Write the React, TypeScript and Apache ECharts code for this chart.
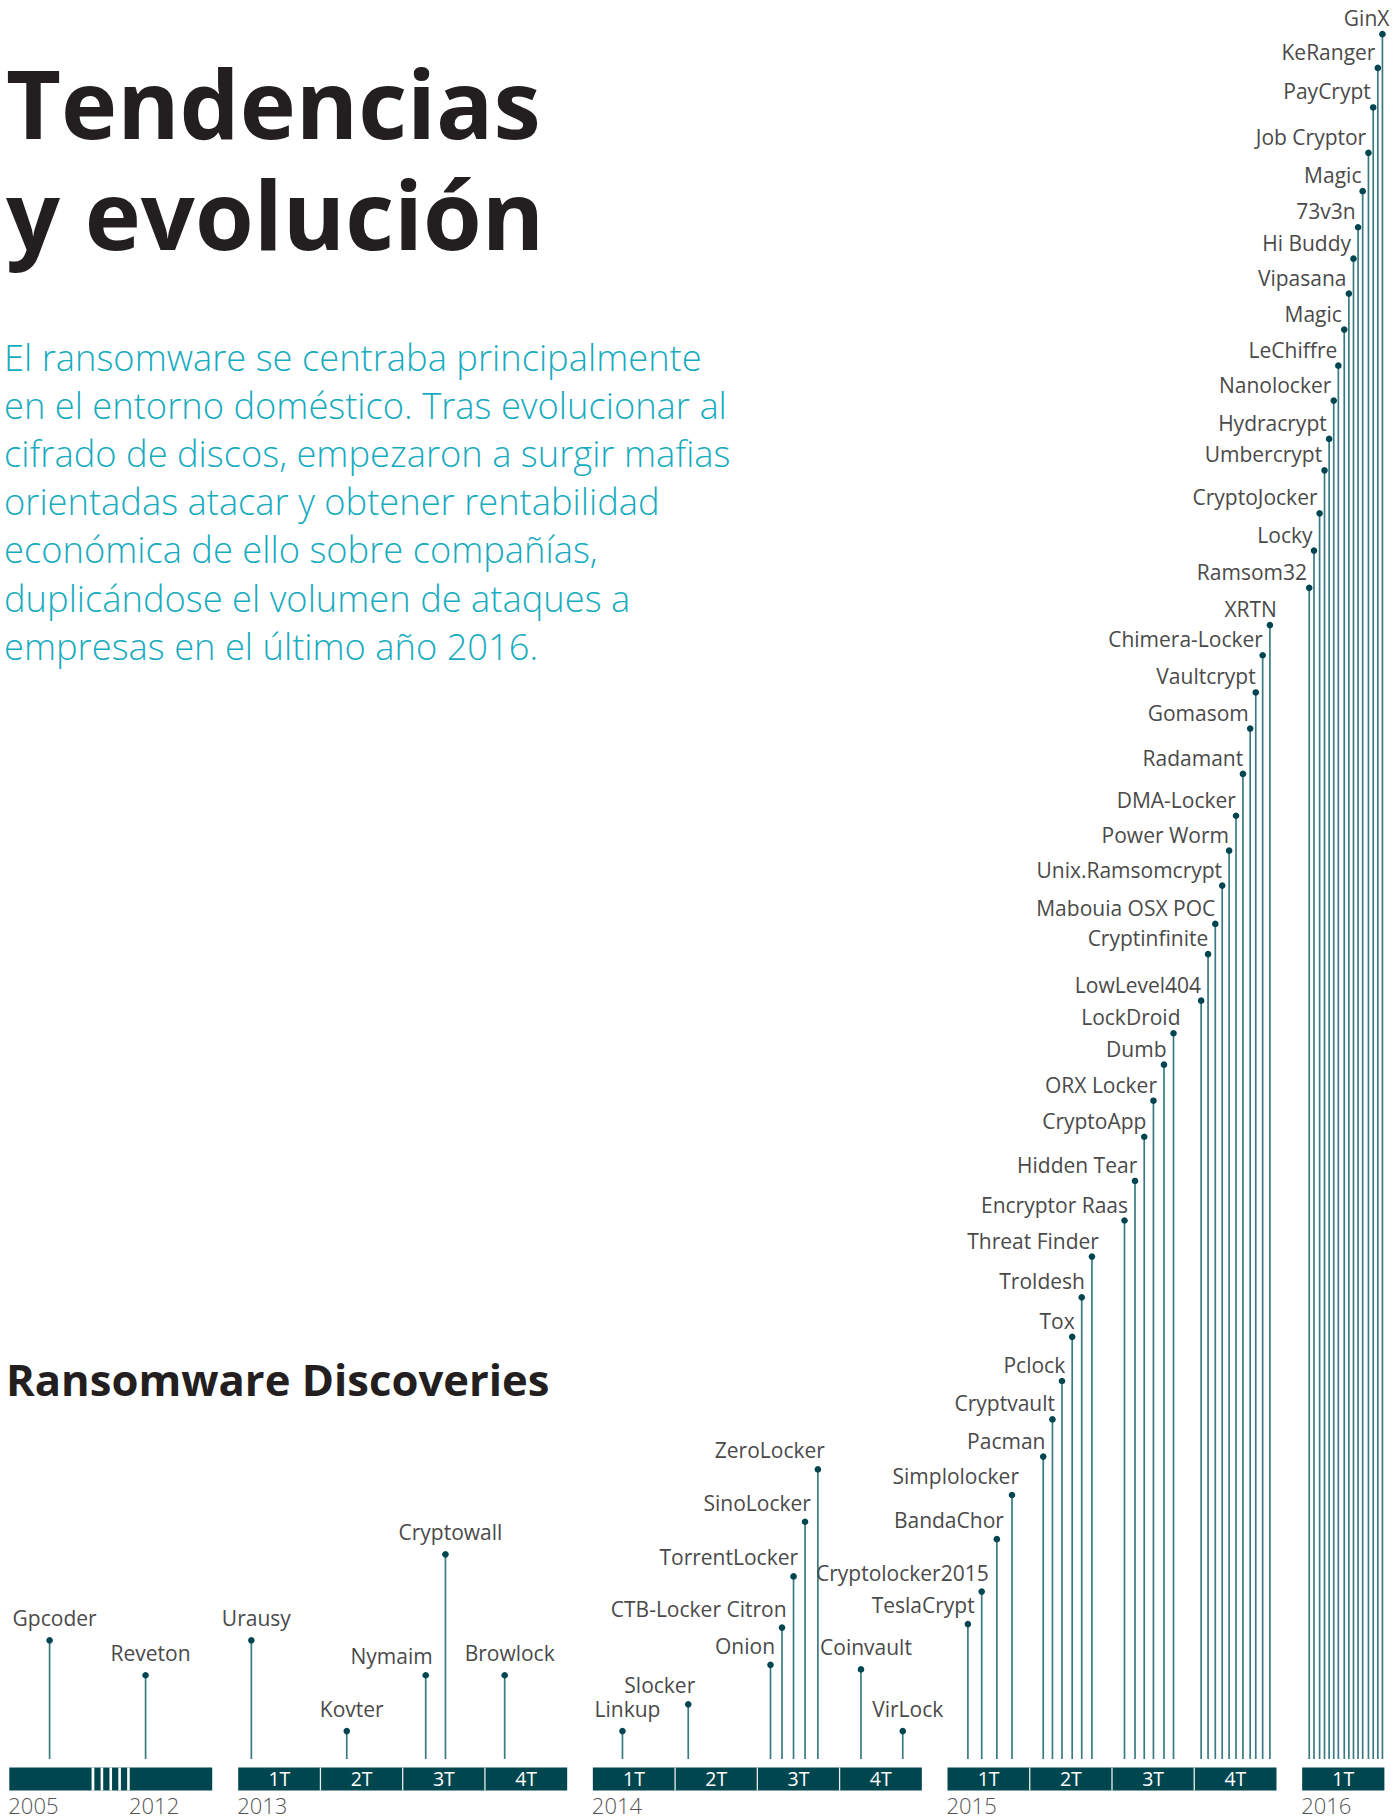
import React, { useEffect, useRef } from "react";
import * as echarts from "echarts";

// ---------- DATA ----------
const NAMES = [
  "Gpcoder", "Reveton",
  "Urausy", "Kovter", "Nymaim", "Cryptowall", "Browlock",
  "Linkup", "Slocker", "Onion", "CTB-Locker Citron", "TorrentLocker", "SinoLocker", "ZeroLocker", "Coinvault", "VirLock",
  "TeslaCrypt", "Cryptolocker2015", "BandaChor", "Simplolocker",
  "Pacman", "Cryptvault", "Pclock", "Tox", "Troldesh", "Threat Finder",
  "Encryptor Raas", "Hidden Tear", "CryptoApp", "ORX Locker", "Dumb", "LockDroid",
  "LowLevel404", "Cryptinfinite", "Mabouia OSX POC", "Unix.Ramsomcrypt", "Power Worm", "DMA-Locker",
  "Radamant", "Gomasom", "Vaultcrypt", "Chimera-Locker", "XRTN",
  "Ramsom32", "Locky", "CryptoJocker", "Umbercrypt", "Hydracrypt", "Nanolocker", "LeChiffre", "Magic",
  "Vipasana", "Hi Buddy", "73v3n", "Magic", "Job Cryptor", "PayCrypt", "KeRanger", "GinX",
];

// discovery date (decimal year)
const DATES = [
  2005.49, 2012.19,
  2013.04, 2013.33, 2013.57, 2013.63, 2013.81,
  2014.09, 2014.29, 2014.54, 2014.575, 2014.61, 2014.645, 2014.684, 2014.815, 2014.942,
  2015.062, 2015.104, 2015.15, 2015.196,
  2015.291, 2015.319, 2015.348, 2015.379, 2015.408, 2015.439,
  2015.538, 2015.57, 2015.598, 2015.626, 2015.658, 2015.687,
  2015.771, 2015.792, 2015.814, 2015.835, 2015.856, 2015.877,
  2015.898, 2015.92, 2015.937, 2015.958, 2015.98,
  2016.0215, 2016.036, 2016.053, 2016.068, 2016.082, 2016.096, 2016.11, 2016.128,
  2016.142, 2016.156, 2016.17, 2016.184, 2016.2015, 2016.216, 2016.23, 2016.244,
];

// stem height (relative units)
const HEIGHTS = [
  102, 72,
  102, 24, 72, 176, 72,
  24, 47, 81, 113, 157, 204, 249, 77, 24,
  116, 144, 189, 227,
  260, 292, 325, 363, 397, 432,
  463, 497, 535, 566, 597, 624,
  652, 692, 718, 751, 781, 811,
  847, 886, 917, 949, 975,
  1007, 1039, 1071, 1108, 1135, 1168, 1198, 1229,
  1260, 1290, 1317, 1348, 1381, 1420, 1454, 1483,
];

const YEAR_LABELS = ["2005", "2012", "2013", "2014", "2015", "2016"];
const QUARTER_LABELS = ["1T", "2T", "3T", "4T"];
const QUARTERS_SHOWN = [4, 4, 4, 1]; // 2013, 2014, 2015, 2016

const TITLE_LINES = ["Tendencias", "y evolución"];
const PARAGRAPH = [
  "El ransomware se centraba principalmente",
  "en el entorno doméstico. Tras evolucionar al",
  "cifrado de discos, empezaron a surgir mafias",
  "orientadas atacar y obtener rentabilidad",
  "económica de ello sobre compañías,",
  "duplicándose el volumen de ataques a",
  "empresas en el último año 2016.",
];
const SUBTITLE = "Ransomware Discoveries";

// ---------- STYLE ----------
// label placement: c = centred above dot, r = right-aligned next to dot
const LABEL_ALIGN =
  "cc" + "ccrcc" + "crrrrrrcc" + "rrrr" + "rrrrrr" + "rrrrrr" + "rrrrrr" + "rrrrr" + "rrrrrrrr" + "rrrrrrrr";

const FONT = "'Open Sans', sans-serif";
const BAR = "#00464f";
const STEM = "#3a7b83";
const DOT = "#00454f";
const LABEL = "#4a4a4a";
const CYAN = "#17abc0";
const DARK = "#231f20";

// timeline layout (slot units: one quarter = 1 slot)
const START_2012 = 1.467;
const START_2013 = 2.783;
const YEAR_STRIDE = 4.312;

function dateToSlot(d: number): number {
  if (d < 2006) return d - 2005;
  if (d < 2013) return START_2012 + (d - 2012);
  const y = Math.floor(d);
  return START_2013 + (y - 2013) * YEAR_STRIDE + (d - y) * 4;
}

type Seg = { s: number; e: number; label: string; year: string; kind: string };

function buildSegments(): Seg[] {
  const segs: Seg[] = [];
  segs.push({ s: dateToSlot(2005), e: dateToSlot(2005) + 1, label: "", year: YEAR_LABELS[0], kind: "full" });
  segs.push({ s: dateToSlot(2005) + 1, e: dateToSlot(2012), label: "", year: "", kind: "break" });
  segs.push({ s: dateToSlot(2012), e: dateToSlot(2012) + 1, label: "", year: YEAR_LABELS[1], kind: "full" });
  QUARTERS_SHOWN.forEach((n, yi) => {
    const year = 2013 + yi;
    for (let q = 0; q < n; q++) {
      const s = dateToSlot(year + q * 0.25);
      segs.push({ s, e: s + 1, label: QUARTER_LABELS[q], year: q === 0 ? YEAR_LABELS[2 + yi] : "", kind: q === 0 ? "q0" : "q" });
    }
  });
  return segs;
}

const X_MAX = dateToSlot(2016) + QUARTERS_SHOWN[3];
const Y_MAX = 1512.4;

export default function App() {
  const ref = useRef<HTMLDivElement>(null);
  useEffect(() => {
    document.body.style.margin = "0";
    if (!ref.current) return;
    const chart = echarts.init(ref.current, undefined, { renderer: "svg" });
    const segs = buildSegments();
    const slots = DATES.map((d) => dateToSlot(d));
    const stems = NAMES.map((_, i) => [slots[i], HEIGHTS[i], i]);

    const graphics: any[] = [];
    TITLE_LINES.forEach((t, i) => {
      graphics.push({
        type: "text",
        left: 6,
        top: 54 + i * 111.5,
        style: { text: t, fontFamily: FONT, fontWeight: 700, fontSize: 95, fill: DARK },
      });
    });
    PARAGRAPH.forEach((t, i) => {
      graphics.push({
        type: "text",
        left: 4,
        top: 338.5 + i * 48.2,
        style: { text: t, fontFamily: FONT, fontWeight: 300, fontSize: 36.3, fill: CYAN },
      });
    });
    graphics.push({
      type: "text",
      left: 6,
      top: 1357,
      style: { text: SUBTITLE, fontFamily: FONT, fontWeight: 700, fontSize: 43.6, fill: DARK },
    });

    chart.setOption({
      animation: false,
      grid: { left: 9.3, right: 9.6, top: 0, bottom: 59 },
      xAxis: { type: "value", min: 0, max: X_MAX, show: false },
      yAxis: { type: "value", min: 0, max: Y_MAX, show: false },
      graphic: graphics,
      series: [
        {
          type: "custom",
          silent: true,
          clip: false,
          data: segs.map((s, i) => [s.s, s.e, i]),
          renderItem: (params: any, api: any) => {
            const seg = segs[api.value(2)];
            const p0 = api.coord([seg.s, 0]);
            const p1 = api.coord([seg.e, 0]);
            const top = p0[1] + 8.5;
            const h = 23;
            const children: any[] = [
              { type: "rect", shape: { x: p0[0], y: top, width: p1[0] - p0[0], height: h }, style: { fill: BAR } },
            ];
            if (seg.kind === "break") {
              const w = p1[0] - p0[0];
              for (let k = 0; k < 5; k++) {
                const x = p0[0] + 1.5 + (k * (w - 3)) / 4;
                children.push({
                  type: "line",
                  shape: { x1: x, y1: top, x2: x, y2: top + h },
                  style: { stroke: "#ffffff", lineWidth: 2.6 },
                });
              }
            }
            if (seg.kind === "q") {
              children.push({
                type: "line",
                shape: { x1: p0[0], y1: top, x2: p0[0], y2: top + h },
                style: { stroke: "#e8eeee", lineWidth: 1.3 },
              });
            }
            if (seg.label) {
              children.push({
                type: "text",
                x: (p0[0] + p1[0]) / 2,
                y: top + h / 2 - 0.5,
                style: { text: seg.label, fontFamily: FONT, fontSize: 19.5, lineHeight: 18, fill: "#ffffff", align: "center", verticalAlign: "middle" },
              });
            }
            if (seg.year) {
              children.push({
                type: "text",
                x: p0[0] - 1,
                y: top + h + 14,
                style: { text: seg.year, fontFamily: FONT, fontWeight: 300, fontSize: 22, lineHeight: 20, fill: "#555555", align: "left", verticalAlign: "middle" },
              });
            }
            return { type: "group", children };
          },
        },
        {
          type: "custom",
          silent: true,
          clip: false,
          data: stems,
          renderItem: (params: any, api: any) => {
            const x = api.value(0);
            const hv = api.value(1);
            const i = api.value(2);
            const pt = api.coord([x, hv]);
            const pb = api.coord([x, 0]);
            const al = LABEL_ALIGN[i] === "r" ? "right" : "center";
            let lx = pt[0] + 5;
            let dy = 22;
            if (al === "right") {
              lx = pt[0] + 7;
              if (i + 1 < slots.length) {
                const nx = api.coord([slots[i + 1], 0])[0];
                lx = Math.min(lx, nx - 7);
              }
              dy = hv < 250 ? 19 : 16;
            }
            return {
              type: "group",
              children: [
                { type: "line", shape: { x1: pb[0], y1: pb[1], x2: pt[0], y2: pt[1] }, style: { stroke: STEM, lineWidth: 1.7 } },
                { type: "circle", shape: { cx: pt[0], cy: pt[1], r: 3.3 }, style: { fill: DOT } },
                {
                  type: "text",
                  x: lx,
                  y: pt[1] - dy,
                  style: { text: NAMES[i], fontFamily: FONT, fontSize: 21, lineHeight: 22, fill: LABEL, align: al, verticalAlign: "middle" },
                },
              ],
            };
          },
        },
      ],
    });
    return () => chart.dispose();
  }, []);
  return <div ref={ref} style={{ width: 1394, height: 1818 }} />;
}
